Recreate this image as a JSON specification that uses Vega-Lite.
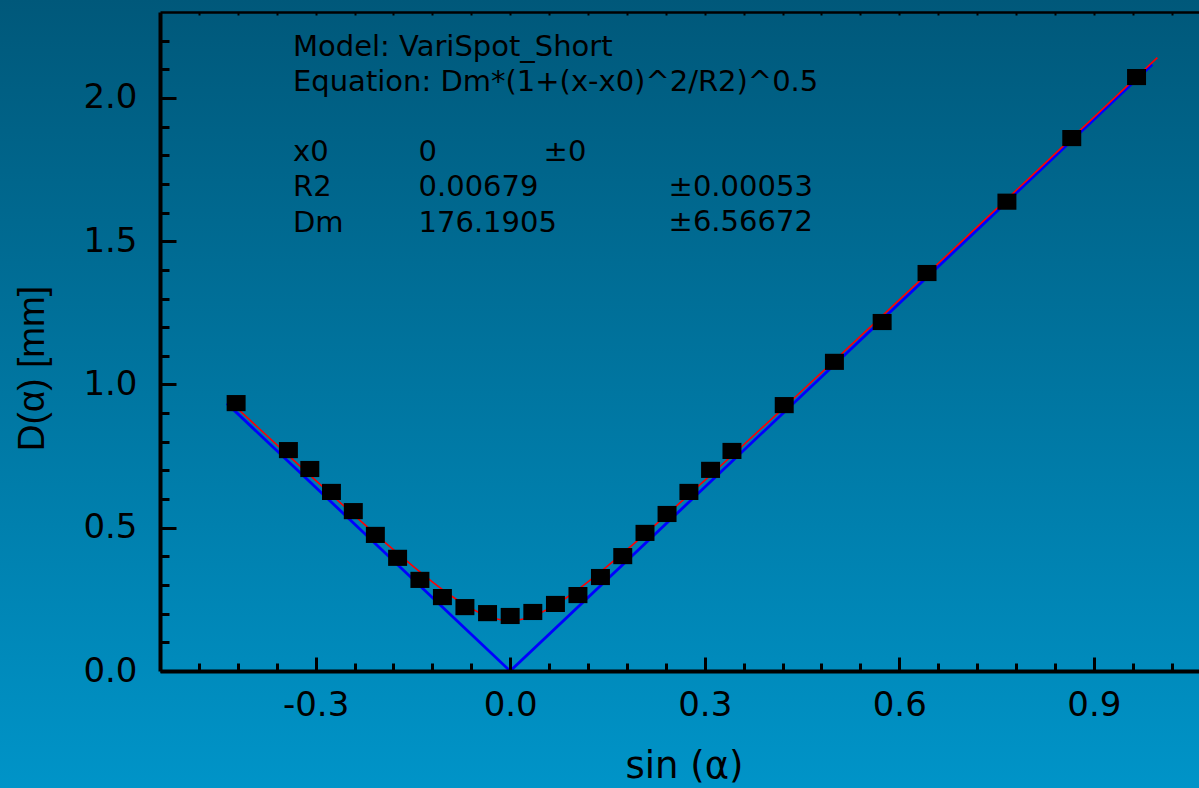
{
  "$schema": "https://vega.github.io/schema/vega-lite/v6.json",
  "width": 1039,
  "height": 659,
  "autosize": {"type": "none"},
  "padding": {"left": 160, "top": 12, "right": 0, "bottom": 117},
  "background": "#0077a0",
  "config": {"view": {"stroke": null}, "axis": {"grid": false}},
  "datasets": {
    "points": [
      {"s": -0.4226, "d": 0.935}, {"s": -0.342, "d": 0.771}, {"s": -0.309, "d": 0.705},
      {"s": -0.2756, "d": 0.625}, {"s": -0.2419, "d": 0.558}, {"s": -0.2079, "d": 0.475},
      {"s": -0.1736, "d": 0.395}, {"s": -0.1392, "d": 0.318}, {"s": -0.1045, "d": 0.258},
      {"s": -0.0698, "d": 0.223}, {"s": -0.0349, "d": 0.202}, {"s": 0, "d": 0.192},
      {"s": 0.0349, "d": 0.206}, {"s": 0.0698, "d": 0.234}, {"s": 0.1045, "d": 0.265},
      {"s": 0.1392, "d": 0.328}, {"s": 0.1736, "d": 0.401}, {"s": 0.2079, "d": 0.482},
      {"s": 0.2419, "d": 0.548}, {"s": 0.2756, "d": 0.625}, {"s": 0.309, "d": 0.702},
      {"s": 0.342, "d": 0.768}, {"s": 0.4226, "d": 0.928}, {"s": 0.5, "d": 1.079},
      {"s": 0.5736, "d": 1.218}, {"s": 0.6428, "d": 1.389}, {"s": 0.766, "d": 1.638},
      {"s": 0.866, "d": 1.86}, {"s": 0.9659, "d": 2.073}
    ],
    "fit": [
      {"s": -0.423, "d": 0.9215}, {"s": -0.38, "d": 0.8314}, {"s": -0.34, "d": 0.748},
      {"s": -0.3, "d": 0.6652}, {"s": -0.26, "d": 0.5832}, {"s": -0.22, "d": 0.5023},
      {"s": -0.18, "d": 0.4233}, {"s": -0.15, "d": 0.3659}, {"s": -0.12, "d": 0.3113},
      {"s": -0.09, "d": 0.2609}, {"s": -0.06, "d": 0.218}, {"s": -0.03, "d": 0.1875},
      {"s": 0, "d": 0.1762}, {"s": 0.03, "d": 0.1875}, {"s": 0.06, "d": 0.218},
      {"s": 0.09, "d": 0.2609}, {"s": 0.12, "d": 0.3113}, {"s": 0.15, "d": 0.3659},
      {"s": 0.18, "d": 0.4233}, {"s": 0.22, "d": 0.5023}, {"s": 0.26, "d": 0.5832},
      {"s": 0.3, "d": 0.6652}, {"s": 0.35, "d": 0.7688}, {"s": 0.4, "d": 0.8732},
      {"s": 0.45, "d": 0.9782}, {"s": 0.5, "d": 1.0835}, {"s": 0.6, "d": 1.295},
      {"s": 0.7, "d": 1.5071}, {"s": 0.8, "d": 1.7196}, {"s": 0.9, "d": 1.9324},
      {"s": 0.998, "d": 2.141}
    ],
    "asym": [
      {"s": -0.437, "d": 0.934}, {"s": 0, "d": 0}, {"s": 0.99, "d": 2.117}
    ]
  },
  "resolve": {"axis": {"x": "independent", "y": "independent"}},
  "layer": [
    {
      "data": {"values": [{}]},
      "mark": {
        "type": "rect",
        "clip": false,
        "fill": {
          "gradient": "linear", "x1": 0, "y1": 0, "x2": 0, "y2": 1,
          "stops": [{"offset": 0, "color": "#00587a"}, {"offset": 1, "color": "#0094c8"}]
        }
      },
      "encoding": {
        "x": {"datum": -0.79, "type": "quantitative", "scale": {"domain": [-0.54, 1.0622], "nice": false, "zero": false}, "axis": null},
        "x2": {"datum": 1.1},
        "y": {"datum": -0.41, "type": "quantitative", "scale": {"domain": [0, 2.3], "nice": false, "zero": false}, "axis": null},
        "y2": {"datum": 2.345}
      }
    },
    {
      "data": {"name": "asym"},
      "mark": {"type": "line", "color": "#0000ff", "strokeWidth": 2.8},
      "encoding": {
        "x": {"field": "s", "type": "quantitative", "scale": {"domain": [-0.54, 1.0622], "nice": false, "zero": false},
          "axis": {"orient": "bottom", "zindex": 1, "values": [-0.3, 0, 0.3, 0.6, 0.9], "tickSize": -14, "tickWidth": 3, "tickColor": "black",
            "domainColor": "black", "domainWidth": 4, "labels": false, "title": null}},
        "y": {"field": "d", "type": "quantitative", "scale": {"domain": [0, 2.3], "nice": false, "zero": false},
          "axis": {"orient": "left", "zindex": 1, "values": [0, 0.5, 1, 1.5, 2], "tickSize": -16, "tickWidth": 3, "tickColor": "black",
            "domainColor": "black", "domainWidth": 4, "labels": false, "title": null}}
      }
    },
    {
      "data": {"name": "fit"},
      "mark": {"type": "line", "color": "#ff0000", "strokeWidth": 1.6, "interpolate": "monotone"},
      "encoding": {
        "x": {"field": "s", "type": "quantitative", "scale": {"domain": [-0.54, 1.0622], "nice": false, "zero": false},
          "axis": {"orient": "bottom", "zindex": 1, "values": [-0.48, -0.42, -0.36, -0.24, -0.18, -0.12, -0.06, 0.06, 0.12, 0.18, 0.24, 0.36, 0.42, 0.48, 0.54, 0.66, 0.72, 0.78, 0.84, 0.96, 1.02],
            "tickSize": -8, "tickWidth": 3, "tickColor": "black", "domain": false, "labels": false, "title": null}},
        "y": {"field": "d", "type": "quantitative", "scale": {"domain": [0, 2.3], "nice": false, "zero": false},
          "axis": {"orient": "left", "zindex": 1, "values": [0.1, 0.2, 0.3, 0.4, 0.6, 0.7, 0.8, 0.9, 1.1, 1.2, 1.3, 1.4, 1.6, 1.7, 1.8, 1.9, 2.1, 2.2],
            "tickSize": -9, "tickWidth": 3, "tickColor": "black", "domain": false, "labels": false, "title": null}}
      }
    },
    {
      "data": {"name": "points"},
      "mark": {"type": "point", "shape": "M-1,-0.85H1V0.85H-1Z", "size": 360, "filled": true, "color": "#000000", "opacity": 1},
      "encoding": {
        "x": {"field": "s", "type": "quantitative", "scale": {"domain": [-0.54, 1.0622], "nice": false, "zero": false},
          "axis": {"orient": "bottom", "zindex": 1, "values": [-0.3, 0, 0.3, 0.6, 0.9], "ticks": false, "domain": false,
            "labelExpr": "datum.value < 0 ? '-' + format(-datum.value, '.1f') : format(datum.value, '.1f')",
            "labelFont": "DejaVu Sans", "labelFontSize": 34, "labelColor": "black", "labelPadding": 44,
            "labelBaseline": "alphabetic", "labelFlush": false, "labelOverlap": false,
            "title": "sin (α)", "titleFont": "DejaVu Sans", "titleFontSize": 37, "titleFontWeight": "normal",
            "titleColor": "black", "titleX": 524, "titleY": 106, "titleBaseline": "alphabetic"}},
        "y": {"field": "d", "type": "quantitative", "scale": {"domain": [0, 2.3], "nice": false, "zero": false},
          "axis": {"orient": "left", "zindex": 1, "values": [0, 0.5, 1, 1.5, 2], "ticks": false, "domain": false,
            "format": ".1f", "labelFont": "DejaVu Sans", "labelFontSize": 34, "labelColor": "black", "labelPadding": 23,
            "labelBaseline": "middle", "labelFlush": false, "labelOverlap": false,
            "title": "D(α) [mm]", "titleFont": "Liberation Sans", "titleFontSize": 37, "titleFontWeight": "normal",
            "titleColor": "black", "titleX": -117, "titleY": 356, "titleAngle": 270, "titleBaseline": "alphabetic"}}
      }
    },
    {
      "data": {"values": [{}]},
      "mark": {"type": "text", "text": ["Model: VariSpot_Short", "Equation: Dm*(1+(x-x0)^2/R2)^0.5"], "font": "DejaVu Sans", "fontSize": 29,
        "color": "black", "align": "left", "baseline": "alphabetic", "lineHeight": 35},
      "encoding": {
        "x": {"datum": -0.3349, "type": "quantitative", "scale": {"domain": [-0.54, 1.0622], "nice": false, "zero": false},
          "axis": {"orient": "top", "zindex": 1, "values": [-0.48, -0.42, -0.36, -0.3, -0.24, -0.18, -0.12, -0.06, 0, 0.06, 0.12, 0.18, 0.24, 0.3, 0.36, 0.42, 0.48, 0.54, 0.6, 0.66, 0.72, 0.78, 0.84, 0.9, 0.96, 1.02],
            "tickSize": -3, "tickWidth": 2, "tickColor": "black", "domainColor": "black", "domainWidth": 2.5, "labels": false, "title": null}},
        "y": {"datum": 2.1476, "type": "quantitative", "scale": {"domain": [0, 2.3], "nice": false, "zero": false}, "axis": null}
      }
    },
    {
      "data": {"values": [{}]},
      "mark": {"type": "text", "text": ["x0", "R2", "Dm"], "font": "DejaVu Sans", "fontSize": 29,
        "color": "black", "align": "left", "baseline": "alphabetic", "lineHeight": 35.3},
      "encoding": {
        "x": {"datum": -0.3349, "type": "quantitative", "scale": {"domain": [-0.54, 1.0622], "nice": false, "zero": false}, "axis": null},
        "y": {"datum": 1.7801, "type": "quantitative", "scale": {"domain": [0, 2.3], "nice": false, "zero": false}, "axis": null}
      }
    },
    {
      "data": {"values": [{}]},
      "mark": {"type": "text", "text": ["0", "0.00679", "176.1905"], "font": "DejaVu Sans", "fontSize": 29,
        "color": "black", "align": "left", "baseline": "alphabetic", "lineHeight": 35.3},
      "encoding": {
        "x": {"datum": -0.1413, "type": "quantitative", "scale": {"domain": [-0.54, 1.0622], "nice": false, "zero": false}, "axis": null},
        "y": {"datum": 1.7801, "type": "quantitative", "scale": {"domain": [0, 2.3], "nice": false, "zero": false}, "axis": null}
      }
    },
    {
      "data": {"values": [{}]},
      "mark": {"type": "text", "text": "±0", "font": "DejaVu Sans", "fontSize": 29,
        "color": "black", "align": "left", "baseline": "alphabetic"},
      "encoding": {
        "x": {"datum": 0.0515, "type": "quantitative", "scale": {"domain": [-0.54, 1.0622], "nice": false, "zero": false}, "axis": null},
        "y": {"datum": 1.7801, "type": "quantitative", "scale": {"domain": [0, 2.3], "nice": false, "zero": false}, "axis": null}
      }
    },
    {
      "data": {"values": [{}]},
      "mark": {"type": "text", "text": ["±0.00053", "±6.56672"], "font": "DejaVu Sans", "fontSize": 29,
        "color": "black", "align": "left", "baseline": "alphabetic", "lineHeight": 35.3},
      "encoding": {
        "x": {"datum": 0.2443, "type": "quantitative", "scale": {"domain": [-0.54, 1.0622], "nice": false, "zero": false}, "axis": null},
        "y": {"datum": 1.6572, "type": "quantitative", "scale": {"domain": [0, 2.3], "nice": false, "zero": false}, "axis": null}
      }
    }
  ]
}
